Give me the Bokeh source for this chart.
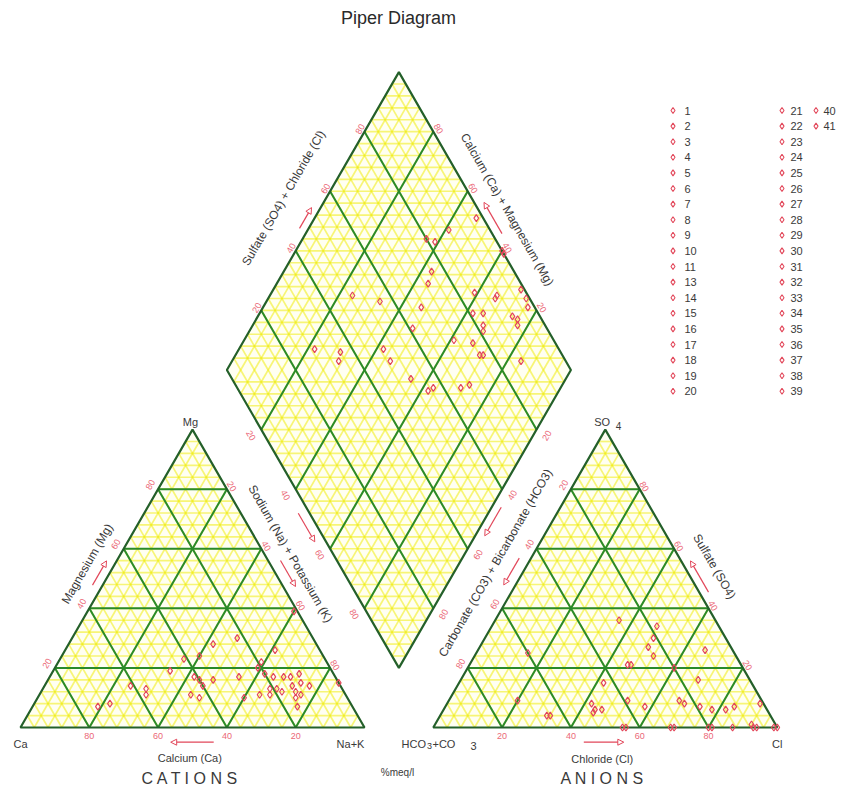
import math
import numpy as np
from bokeh.plotting import figure
from bokeh.models import Range1d, Arrow, NormalHead
from bokeh.core.properties import value
from bokeh.embed import file_html
from bokeh.resources import INLINE

# ---------------- sample data (percent of meq/l) ----------------
sample_labels = ["1", "2", "3", "4", "5", "6", "7", "8", "9", "10", "11",
                 "13", "14", "15", "16", "17", "18", "19", "20", "21", "22",
                 "23", "24", "25", "26", "27", "28", "29", "30", "31", "32",
                 "33", "34", "35", "36", "37", "38", "39", "40", "41"]

# cations
calcium = [1, 22, 30, 41, 36, 13, 19, 47, 28, 20, 18, 15, 13, 10, 41, 40, 40, 36, 61, 57,
           58, 45, 43, 21, 19, 14, 11, 9, 14, 13, 30, 25, 22, 15, 16, 74, 70, 0, 18, 21]
magnesium = [39, 30, 28, 23, 24, 26, 22, 19, 17, 18, 17, 17, 17, 18, 17, 16, 14, 16, 14, 13,
             11, 11, 10, 13, 13, 14, 15, 14, 12, 11, 10, 11, 11, 10, 7, 7, 8, 15, 12, 20]
sodium_potassium = [60, 48, 42, 36, 40, 61, 59, 34, 55, 62, 65, 68, 70, 72, 42, 44, 46, 48, 25, 30,
                    31, 44, 47, 66, 68, 72, 74, 77, 74, 76, 60, 64, 67, 75, 77, 19, 22, 85, 70, 59]

# anions
carbonate_bicarbonate = [28, 18, 21, 24, 24, 8, 33, 20, 43, 15, 60, 71, 50, 50, 48, 51, 39, 35, 24, 23,
                         19, 16, 12, 9, 1, 65, 64, 45, 44, 31, 30, 20, 13, 7, 7, 1, 0, 19, 6, 32]
sulfate = [36, 34, 30, 27, 24, 26, 21, 20, 15, 16, 25, 9, 8, 6, 6, 5, 9, 7, 9, 8,
           7, 6, 6, 7, 8, 4, 4, 0, 0, 0, 0, 0, 0, 1, 0, 0, 0, 0, 0, 21]
chloride = [36, 48, 49, 49, 52, 66, 46, 60, 42, 69, 15, 20, 42, 44, 46, 44, 52, 58, 67, 69,
            74, 78, 82, 84, 91, 31, 32, 55, 56, 69, 70, 80, 87, 92, 93, 99, 100, 81, 94, 47]

# central field: Na+K and SO4+Cl
field_na_k = [47, 41, 36, 39, 43, 44, 24, 33, 46, 59, 66, 72, 75, 47, 62, 65, 67, 74, 76, 22,
              30, 31, 42, 46, 61, 67, 71, 84, 55, 62, 71, 73, 63, 72, 68, 77, 77, 61, 60, 66]
field_so4_cl = [98, 88, 80, 82, 76, 73, 49, 56, 67, 85, 91, 99, 99, 61, 81, 84, 82, 92, 93, 29,
                36, 34, 49, 49, 71, 76, 76, 87, 52, 55, 65, 68, 57, 77, 81, 92, 98, 100, 100, 90]

tick_values = [20, 40, 60, 80]

# ---------------- layout / style ----------------
W, HT = 843, 805
SCALE = 3.44            # screen pixels per percent unit
X0, Y0 = 20.0, 727.0    # screen position of the Ca corner
H = math.sqrt(3) / 2
GAP = 20.0

FONT = value("Liberation Sans")
RED = "#e2475a"
TICK_RED = "#eb6877"
DARK = "#3a3a3a"
GREEN = "#2a8a2a"
EDGE = "#24602a"


def scr(px, py):
    """screen pixel -> plot units"""
    return (px - X0) / SCALE, (Y0 - py) / SCALE


def cation_xy(mg, nak):
    return nak + mg / 2.0, mg * H


def anion_xy(so4, cl):
    return 100 + GAP + cl + so4 / 2.0, so4 * H


D_LEFT = np.array([(100 + GAP) / 2.0, (100 + GAP) * H])


def field_xy(nak, s):
    return D_LEFT[0] + (nak + s) / 2.0, D_LEFT[1] + H * (s - nak)


CAT = [(0, 0), (100, 0), (50, 100 * H)]
ANI = [(100 + GAP, 0), (200 + GAP, 0), (150 + GAP, 100 * H)]
DIA_UP = [field_xy(0, 0), field_xy(100, 100), field_xy(0, 100)]
DIA_LO = [field_xy(0, 0), field_xy(100, 100), field_xy(100, 0)]
DIAMOND = [field_xy(0, 0), field_xy(100, 0), field_xy(100, 100), field_xy(0, 100)]


def lattice(verts, fracs):
    xs, ys = [], []
    A = [np.array(v, float) for v in verts]
    for i in range(3):
        vi, vj, vk = A[i], A[(i + 1) % 3], A[(i + 2) % 3]
        for t in fracs:
            p1 = vi * t + vj * (1 - t)
            p2 = vi * t + vk * (1 - t)
            xs.append([p1[0], p2[0]])
            ys.append([p1[1], p2[1]])
    return xs, ys


p = figure(width=W, height=HT, output_backend="svg", toolbar_location=None,
           x_range=Range1d(-X0 / SCALE, (W - X0) / SCALE),
           y_range=Range1d(-(HT - Y0) / SCALE, Y0 / SCALE),
           min_border=0, x_axis_location=None, y_axis_location=None)
p.grid.visible = False
p.outline_line_color = None
p.background_fill_color = "white"

# fills
for poly in (CAT, ANI, DIAMOND):
    p.patch([v[0] for v in poly], [v[1] for v in poly], fill_color="#fffff2", line_color=None)

# fine lattice
fine = [k * 0.04 for k in range(1, 25)]
fx, fy = [], []
for tri in (CAT, ANI, DIA_UP, DIA_LO):
    a, b = lattice(tri, fine)
    fx += a
    fy += b
p.multi_line(fx, fy, line_color="#f0ec10", line_width=1.7, line_alpha=0.55)

# major 20% lines
gx, gy = [], []
for tri in (CAT, ANI):
    a, b = lattice(tri, [v / 100 for v in tick_values])
    gx += a
    gy += b
for v in tick_values:
    a0, a1 = field_xy(v, 0), field_xy(v, 100)
    gx.append([a0[0], a1[0]]); gy.append([a0[1], a1[1]])
    b0, b1 = field_xy(0, v), field_xy(100, v)
    gx.append([b0[0], b1[0]]); gy.append([b0[1], b1[1]])
p.multi_line(gx, gy, line_color=GREEN, line_width=2)

# outlines
for poly in (CAT, ANI, DIAMOND):
    p.patch([v[0] for v in poly], [v[1] for v in poly], fill_color=None,
            line_color=EDGE, line_width=2.2)

# samples
cx, cy = zip(*[cation_xy(m, n) for m, n in zip(magnesium, sodium_potassium)])
ax_, ay_ = zip(*[anion_xy(s, c) for s, c in zip(sulfate, chloride)])
dx, dy = zip(*[field_xy(n, s) for n, s in zip(field_na_k, field_so4_cl)])
for xs, ys in ((cx, cy), (ax_, ay_), (dx, dy)):
    p.scatter(list(xs), list(ys), marker="diamond", size=7, fill_color=None,
              line_color=RED, line_width=1.2)

# ---------------- tick labels ----------------
def add_ticks(points, normal, dist, angle_deg):
    xs, ys = [], []
    for (x, y) in points:
        xs.append(x + normal[0] * dist)
        ys.append(y + normal[1] * dist)
    p.text(xs, ys, text=[str(v) for v in tick_values], angle=math.radians(angle_deg),
           text_align="center", text_baseline="middle", text_font=FONT,
           text_font_size="9px", text_color=TICK_RED)


NL = (-H, 0.5)
NR = (H, 0.5)
add_ticks([(100 - v, 0) for v in tick_values], (0, -1), 2.33, 0)                 # Ca
add_ticks([cation_xy(v, 0) for v in tick_values], NL, 2.6, 60)                   # Mg
add_ticks([cation_xy(100 - v, v) for v in tick_values], NR, 1.6, -60)            # Na+K
add_ticks([anion_xy(0, v) for v in tick_values], (0, -1), 2.33, 0)               # Cl
add_ticks([anion_xy(v, 100 - v) for v in tick_values], NR, 1.5, -60)             # SO4
add_ticks([anion_xy(100 - v, 0) for v in tick_values], NL, 2.4, 60)              # HCO3
add_ticks([field_xy(0, v) for v in tick_values], NL, 1.5, 60)                    # SO4+Cl
add_ticks([field_xy(100 - v, 100) for v in tick_values], NR, 1.7, -60)           # Ca+Mg
add_ticks([field_xy(v, 0) for v in tick_values], (-H, -0.5), 3.5, -60)           # Na+K
add_ticks([field_xy(100, 100 - v) for v in tick_values], (H, -0.5), 3.5, 60)     # HCO3+CO3

# ---------------- texts ----------------
def label(txt, px, py, size, angle=0, color=DARK, align="center"):
    x, y = scr(px, py)
    p.text([x], [y], text=[txt], angle=math.radians(angle), text_align=align,
           text_baseline="middle", text_font=FONT, text_font_size=size, text_color=color)


label("Piper Diagram", 398, 17, "18px", color="#2a2a2a")

label("Magnesium (Mg)", 86.7, 563.3, "12px", 60)
label("Sodium (Na) + Potassium (K)", 290, 553.3, "12px", -60)
label("Carbonate (CO3) + Bicarbonate (HCO3)", 495, 562.5, "12px", 60)
label("Sulfate (SO4)", 714, 566, "12px", -60)
label("Sulfate (SO4) + Chloride (Cl)", 283, 197.5, "12px", 60)
label("Calcium (Ca) + Magnesium (Mg)", 506.7, 209, "12px", -60)
label("Calcium (Ca)", 189.3, 757.3, "11px")
label("Chloride (Cl)", 601.7, 758, "11px")

label("Mg", 190, 421, "11px")
label("Ca", 20, 743.3, "11px")
label("Na+K", 350, 743.3, "11px")
label("Cl", 776.7, 743.3, "11px")
label("SO", 601.7, 421.7, "11px")
label("4", 618, 425, "10px")
label("HCO", 401, 743.3, "11px", align="left")
label("3", 426.5, 745.5, "9px", align="left")
label("+CO", 432, 743.3, "11px", align="left")
label("3", 470, 745.5, "11px", align="left")

label("C A T I O N S", 190, 778, "16px")
label("A N I O N S", 601.7, 778, "16px")
label("%meq/l", 397, 772, "10px")

# ---------------- direction arrows ----------------
arrows = [  # centre (px), direction (deg), length (px)
    (99, 572.5, 60, 28), (287.5, 573, -60, 30), (306, 527, -60, 33),
    (191.7, 741.7, 180, 43), (603.3, 741.7, 0, 40), (699, 576, 120, 36),
    (511, 571, 240, 31), (492.5, 521, 240, 33), (305, 217.5, 60, 24),
    (492.5, 217.5, 120, 36),
]
for cxp, cyp, ang, ln in arrows:
    c = np.array(scr(cxp, cyp))
    d = np.array([math.cos(math.radians(ang)), math.sin(math.radians(ang))]) * ln / 2 / SCALE
    s, e = c - d, c + d
    p.add_layout(Arrow(end=NormalHead(size=6, fill_alpha=0, line_color=RED, line_width=1),
                       x_start=s[0], y_start=s[1], x_end=e[0], y_end=e[1],
                       line_color=RED, line_width=1.2))

# ---------------- legend ----------------
rows = 19
lx, ly, lt = [], [], []
for i, lab in enumerate(sample_labels):
    col, row = divmod(i, rows)
    if col == 2:
        mpx, tpx = 815.5, 823
    elif col == 1:
        mpx, tpx = 781.5, 790
    else:
        mpx, tpx = 672.5, 684
    pyy = 110 + row * 15.6
    x, y = scr(mpx, pyy)
    lx.append(x); ly.append(y)
    tx, ty = scr(tpx, pyy)
    p.text([tx], [ty], text=[lab], text_align="left", text_baseline="middle",
           text_font=FONT, text_font_size="11px", text_color=DARK)
p.scatter(lx, ly, marker="diamond", size=6, fill_color=None, line_color=RED, line_width=1.1)

open("out.html", "w").write(file_html(p, INLINE))
